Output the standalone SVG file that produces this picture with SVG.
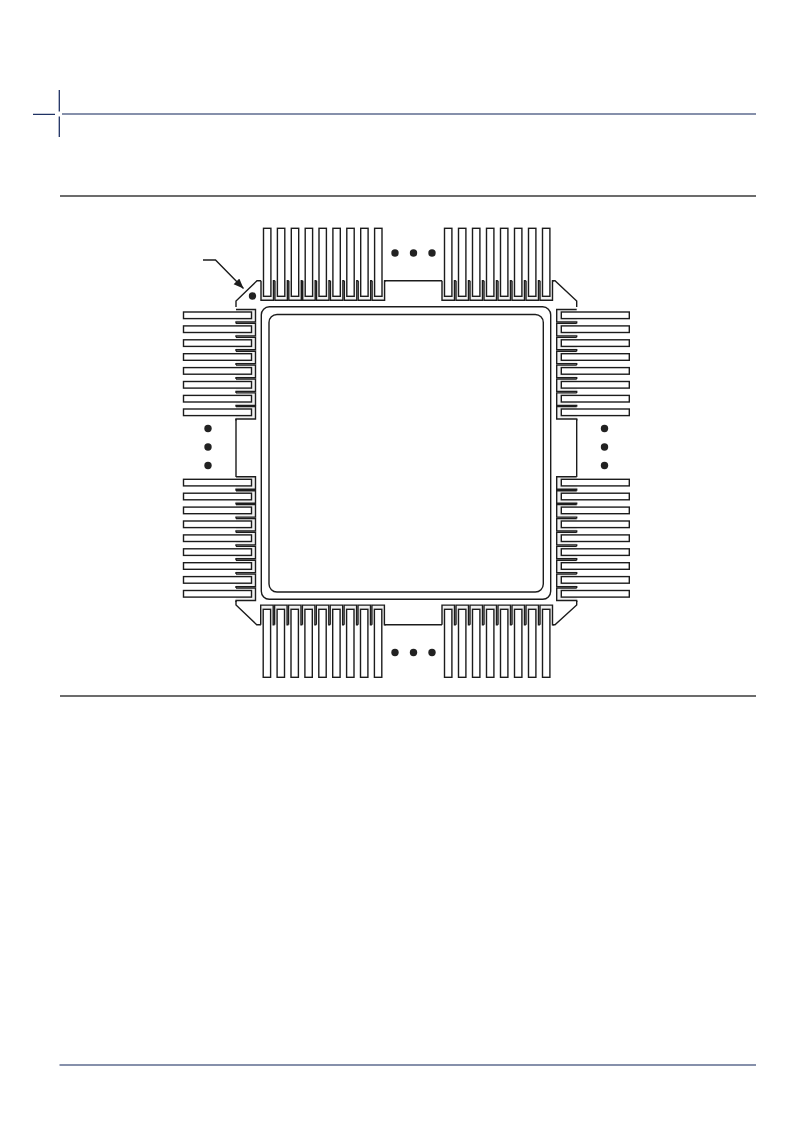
<svg xmlns="http://www.w3.org/2000/svg" xmlns:xlink="http://www.w3.org/1999/xlink" width="793" height="1123" viewBox="0 0 793 1123">
<style>
.o{fill:none;stroke:#1c1c1c;stroke-width:1.4}
.t{fill:#f1f1f1;stroke:#1c1c1c;stroke-width:1.4}
.l{fill:#fff;stroke:#1c1c1c;stroke-width:1.4}
.d{fill:#222;stroke:none}
.g{stroke:#3c3c3c;stroke-width:1.3;fill:none}
.b{stroke:#5f6c90;stroke-width:1.4;fill:none}
.n{stroke:#1f3263;stroke-width:1.3;fill:none}
</style>
<defs>
<marker id="ah" markerUnits="userSpaceOnUse" markerWidth="12" markerHeight="10" refX="10" refY="4" orient="auto"><path d="M0 0L10 4L0 8Z" fill="#1c1c1c"/></marker>
<path id="tt" d="M-2.5 0V19.6H10V0H11.4" class="t"/>
<path id="tb" d="M-2.5 0V-19.6H10V0H11.4" class="t"/>
<path id="tl" d="M0-2.5H19.5V10H0V11.4" class="t"/>
<path id="tr" d="M0-2.5H-20V10H0V11.4" class="t"/>
<rect id="lv" x="0" y="0" width="7.4" height="68" class="l"/>
<rect id="lh" x="0" y="0" width="68" height="6.6" class="l"/>
</defs>
<g id="frame">
<path class="n" d="M59.3 90V111.5M59.3 116.5V137M33 114.4H55"/>
<path class="b" d="M62 114H756M59.5 1065H756"/>
<path class="g" d="M60 196H756M60 696H756"/>
</g>
<g id="package">
<path class="o" d="M261 280.7H257L236 301V307M384.5 280.7H442M552.5 280.7H555L576.7 301V307M236 419V477M576.7 419V477M236 601V605L256.7 624.7H261M384.5 624.7H442M552.5 624.7H555L576.7 605V601"/>
<rect class="o" x="261.3" y="306.8" width="289.4" height="292.5" rx="8"/>
<rect class="o" x="269" y="314.5" width="274.3" height="277.5" rx="8"/>
<circle class="d" cx="252.5" cy="296" r="3.7"/>
</g>
<g id="leads-top">
<use href="#tt" x="263.5" y="280.7"/><use href="#tt" x="277.4" y="280.7"/><use href="#tt" x="291.3" y="280.7"/><use href="#tt" x="305.2" y="280.7"/><use href="#tt" x="319" y="280.7"/><use href="#tt" x="332.9" y="280.7"/><use href="#tt" x="346.8" y="280.7"/><use href="#tt" x="360.7" y="280.7"/><use href="#tt" x="374.6" y="280.7"/>
<use href="#tt" x="444.5" y="280.7"/><use href="#tt" x="458.5" y="280.7"/><use href="#tt" x="472.5" y="280.7"/><use href="#tt" x="486.5" y="280.7"/><use href="#tt" x="500.5" y="280.7"/><use href="#tt" x="514.5" y="280.7"/><use href="#tt" x="528.5" y="280.7"/><use href="#tt" x="542.5" y="280.7"/>
<use href="#lv" x="263.5" y="228.3"/><use href="#lv" x="277.4" y="228.3"/><use href="#lv" x="291.3" y="228.3"/><use href="#lv" x="305.2" y="228.3"/><use href="#lv" x="319" y="228.3"/><use href="#lv" x="332.9" y="228.3"/><use href="#lv" x="346.8" y="228.3"/><use href="#lv" x="360.7" y="228.3"/><use href="#lv" x="374.6" y="228.3"/>
<use href="#lv" x="444.5" y="228.3"/><use href="#lv" x="458.5" y="228.3"/><use href="#lv" x="472.5" y="228.3"/><use href="#lv" x="486.5" y="228.3"/><use href="#lv" x="500.5" y="228.3"/><use href="#lv" x="514.5" y="228.3"/><use href="#lv" x="528.5" y="228.3"/><use href="#lv" x="542.5" y="228.3"/>
</g>
<g id="leads-bottom">
<use href="#tb" x="263.2" y="624.7"/><use href="#tb" x="277.1" y="624.7"/><use href="#tb" x="291" y="624.7"/><use href="#tb" x="304.9" y="624.7"/><use href="#tb" x="318.8" y="624.7"/><use href="#tb" x="332.7" y="624.7"/><use href="#tb" x="346.6" y="624.7"/><use href="#tb" x="360.5" y="624.7"/><use href="#tb" x="374.4" y="624.7"/>
<use href="#tb" x="444.5" y="624.7"/><use href="#tb" x="458.5" y="624.7"/><use href="#tb" x="472.5" y="624.7"/><use href="#tb" x="486.5" y="624.7"/><use href="#tb" x="500.5" y="624.7"/><use href="#tb" x="514.5" y="624.7"/><use href="#tb" x="528.5" y="624.7"/><use href="#tb" x="542.5" y="624.7"/>
<use href="#lv" x="263.2" y="609.3"/><use href="#lv" x="277.1" y="609.3"/><use href="#lv" x="291" y="609.3"/><use href="#lv" x="304.9" y="609.3"/><use href="#lv" x="318.8" y="609.3"/><use href="#lv" x="332.7" y="609.3"/><use href="#lv" x="346.6" y="609.3"/><use href="#lv" x="360.5" y="609.3"/><use href="#lv" x="374.4" y="609.3"/>
<use href="#lv" x="444.5" y="609.3"/><use href="#lv" x="458.5" y="609.3"/><use href="#lv" x="472.5" y="609.3"/><use href="#lv" x="486.5" y="609.3"/><use href="#lv" x="500.5" y="609.3"/><use href="#lv" x="514.5" y="609.3"/><use href="#lv" x="528.5" y="609.3"/><use href="#lv" x="542.5" y="609.3"/>
</g>
<g id="leads-left">
<use href="#tl" x="236" y="312"/><use href="#tl" x="236" y="325.9"/><use href="#tl" x="236" y="339.8"/><use href="#tl" x="236" y="353.7"/><use href="#tl" x="236" y="367.6"/><use href="#tl" x="236" y="381.5"/><use href="#tl" x="236" y="395.4"/><use href="#tl" x="236" y="409"/>
<use href="#tl" x="236" y="479.3"/><use href="#tl" x="236" y="493.2"/><use href="#tl" x="236" y="507.1"/><use href="#tl" x="236" y="521"/><use href="#tl" x="236" y="534.9"/><use href="#tl" x="236" y="548.8"/><use href="#tl" x="236" y="562.7"/><use href="#tl" x="236" y="576.6"/><use href="#tl" x="236" y="590.5"/>
<use href="#lh" x="183.5" y="312"/><use href="#lh" x="183.5" y="325.9"/><use href="#lh" x="183.5" y="339.8"/><use href="#lh" x="183.5" y="353.7"/><use href="#lh" x="183.5" y="367.6"/><use href="#lh" x="183.5" y="381.5"/><use href="#lh" x="183.5" y="395.4"/><use href="#lh" x="183.5" y="409"/>
<use href="#lh" x="183.5" y="479.3"/><use href="#lh" x="183.5" y="493.2"/><use href="#lh" x="183.5" y="507.1"/><use href="#lh" x="183.5" y="521"/><use href="#lh" x="183.5" y="534.9"/><use href="#lh" x="183.5" y="548.8"/><use href="#lh" x="183.5" y="562.7"/><use href="#lh" x="183.5" y="576.6"/><use href="#lh" x="183.5" y="590.5"/>
</g>
<g id="leads-right">
<use href="#tr" x="576.7" y="312"/><use href="#tr" x="576.7" y="325.9"/><use href="#tr" x="576.7" y="339.8"/><use href="#tr" x="576.7" y="353.7"/><use href="#tr" x="576.7" y="367.6"/><use href="#tr" x="576.7" y="381.5"/><use href="#tr" x="576.7" y="395.4"/><use href="#tr" x="576.7" y="409"/>
<use href="#tr" x="576.7" y="479.3"/><use href="#tr" x="576.7" y="493.2"/><use href="#tr" x="576.7" y="507.1"/><use href="#tr" x="576.7" y="521"/><use href="#tr" x="576.7" y="534.9"/><use href="#tr" x="576.7" y="548.8"/><use href="#tr" x="576.7" y="562.7"/><use href="#tr" x="576.7" y="576.6"/><use href="#tr" x="576.7" y="590.5"/>
<use href="#lh" x="561.3" y="312"/><use href="#lh" x="561.3" y="325.9"/><use href="#lh" x="561.3" y="339.8"/><use href="#lh" x="561.3" y="353.7"/><use href="#lh" x="561.3" y="367.6"/><use href="#lh" x="561.3" y="381.5"/><use href="#lh" x="561.3" y="395.4"/><use href="#lh" x="561.3" y="409"/>
<use href="#lh" x="561.3" y="479.3"/><use href="#lh" x="561.3" y="493.2"/><use href="#lh" x="561.3" y="507.1"/><use href="#lh" x="561.3" y="521"/><use href="#lh" x="561.3" y="534.9"/><use href="#lh" x="561.3" y="548.8"/><use href="#lh" x="561.3" y="562.7"/><use href="#lh" x="561.3" y="576.6"/><use href="#lh" x="561.3" y="590.5"/>
</g>
<g id="ellipses">
<circle class="d" cx="395" cy="253" r="3.7"/><circle class="d" cx="413.5" cy="253" r="3.7"/><circle class="d" cx="432" cy="253" r="3.7"/>
<circle class="d" cx="395" cy="652.5" r="3.7"/><circle class="d" cx="413.5" cy="652.5" r="3.7"/><circle class="d" cx="432" cy="652.5" r="3.7"/>
<circle class="d" cx="208" cy="428.5" r="3.7"/><circle class="d" cx="208" cy="447" r="3.7"/><circle class="d" cx="208" cy="465.5" r="3.7"/>
<circle class="d" cx="604.5" cy="428.5" r="3.7"/><circle class="d" cx="604.5" cy="447" r="3.7"/><circle class="d" cx="604.5" cy="465.5" r="3.7"/>
</g>
<g id="connectors">
<path class="o" d="M203 260H215.5L243.5 288.5" marker-end="url(#ah)"/>
</g>
</svg>
